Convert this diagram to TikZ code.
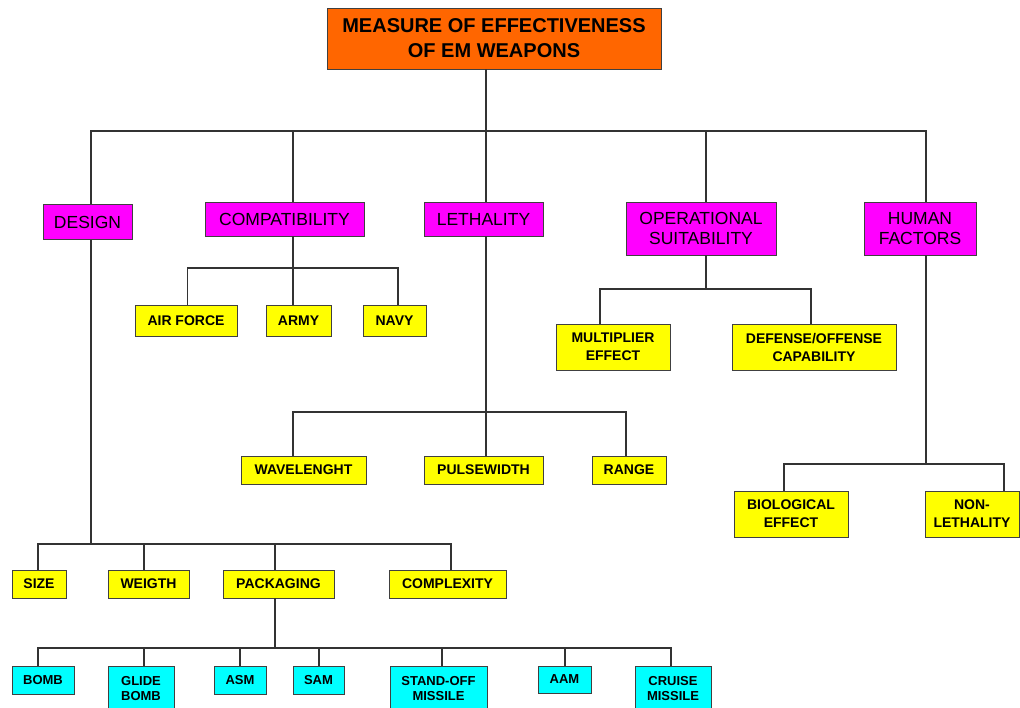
\documentclass[tikz,border=0pt]{standalone}
\usepackage{fontspec}
\setmainfont{Liberation Sans}
\usepackage{xcolor}
\usepackage{tikz}
\definecolor{moeorange}{HTML}{FF6600}
\definecolor{moemagenta}{HTML}{FF00FF}
\definecolor{moeyellow}{HTML}{FFFF00}
\definecolor{moecyan}{HTML}{00FFFF}
\definecolor{moeline}{HTML}{333333}
\definecolor{moeframe}{HTML}{404040}

\begin{document}
\begin{tikzpicture}[x=1pt, y=-1pt,
  box/.style={draw=moeframe, line width=0.9pt, inner sep=0pt, align=center, text=black},
  head/.style={box, fill=moeorange, font=\fontsize{20}{25}\selectfont\bfseries},
  cat/.style={box, fill=moemagenta, font=\fontsize{17.5}{20}\selectfont},
  sub/.style={box, fill=moeyellow, font=\fontsize{14}{18}\selectfont\bfseries},
  leaf/.style={box, fill=moecyan, font=\fontsize{13}{15}\selectfont\bfseries},
  link/.style={draw=moeline, line width=1.1pt}]
  \clip (0,0) rectangle (1020,707);
  \fill[white] (0,0) rectangle (1020,707);
  % top
  \node[head, minimum width=334pt, minimum height=61pt] (moe) at (494,38.5) {MEASURE OF EFFECTIVENESS\\OF EM WEAPONS};
  % categories
  \node[cat, minimum width=89pt,  minimum height=35pt] (design) at (87.5,222) {DESIGN};
  \node[cat, minimum width=159pt, minimum height=34pt] (compat) at (284.5,219) {COMPATIBILITY};
  \node[cat, minimum width=119pt, minimum height=34pt] (leth)   at (483.5,219) {LETHALITY};
  \node[cat, minimum width=150pt, minimum height=53pt] (opsuit) at (701,228.5) {OPERATIONAL\\SUITABILITY};
  \node[cat, minimum width=112pt, minimum height=53pt] (human)  at (920,228.5) {HUMAN\\FACTORS};
  % compatibility
  \node[sub, minimum width=102pt, minimum height=31pt] (airforce) at (186,320.5) {AIR FORCE};
  \node[sub, minimum width=65pt,  minimum height=31pt] (army)     at (298.5,320.5) {ARMY};
  \node[sub, minimum width=63pt,  minimum height=31pt] (navy)     at (394.5,320.5) {NAVY};
  % operational suitability
  \node[sub, minimum width=114pt, minimum height=46pt] (mult)   at (613,347) {MULTIPLIER\\EFFECT};
  \node[sub, minimum width=164pt, minimum height=46pt] (defoff) at (814,347) {DEFENSE/OFFENSE\\CAPABILITY};
  % lethality
  \node[sub, minimum width=125pt, minimum height=28pt] (wavel) at (303.5,470) {WAVELENGHT};
  \node[sub, minimum width=119pt, minimum height=28pt] (pulse) at (483.5,470) {PULSEWIDTH};
  \node[sub, minimum width=74pt,  minimum height=28pt] (range) at (629,470) {RANGE};
  % human factors
  \node[sub, minimum width=114pt, minimum height=46pt] (bio)     at (791,514) {BIOLOGICAL\\EFFECT};
  \node[sub, minimum width=94pt,  minimum height=46pt] (nonleth) at (972,514) {NON-\\LETHALITY};
  % design
  \node[sub, minimum width=54pt,  minimum height=28pt] (size)   at (39,584) {SIZE};
  \node[sub, minimum width=81pt,  minimum height=28pt] (weigth) at (148.5,584) {WEIGTH};
  \node[sub, minimum width=111pt, minimum height=28pt] (pack)   at (278.5,584) {PACKAGING};
  \node[sub, minimum width=117pt, minimum height=28pt] (compl)  at (447.5,584) {COMPLEXITY};
  % packaging
  \node[leaf, minimum width=62pt, minimum height=28pt] (bomb)   at (43,680) {BOMB};
  \node[leaf, minimum width=66pt, minimum height=46pt] (glide)  at (141,689) {GLIDE\\BOMB};
  \node[leaf, minimum width=52pt, minimum height=28pt] (asm)    at (240,680) {ASM};
  \node[leaf, minimum width=51pt, minimum height=28pt] (sam)    at (318.5,680) {SAM};
  \node[leaf, minimum width=97pt, minimum height=46pt] (stand)  at (438.5,689) {STAND-OFF\\MISSILE};
  \node[leaf, minimum width=53pt, minimum height=27pt] (aam)    at (564.5,679.5) {AAM};
  \node[leaf, minimum width=76pt, minimum height=46pt] (cruise) at (673,689) {CRUISE\\MISSILE};
  % bus junctions
  \coordinate (b0) at (486,131);
  \coordinate (b1) at (91,544);
  \coordinate (b2) at (293,268);
  \coordinate (b3) at (486,412);
  \coordinate (b4) at (706,289);
  \coordinate (b5) at (926,464);
  \coordinate (b6) at (275,648);
  % connectors
  \draw[link] ([xshift=-8pt]moe.south) -- (b0);
  \draw[link] (b0) -| ([xshift=3.5pt]design.north);
  \draw[link] (b0) -| ([xshift=8.5pt]compat.north);
  \draw[link] (b0) -- ([xshift=2.5pt]leth.north);
  \draw[link] (b0) -| ([xshift=5pt]opsuit.north);
  \draw[link] (b0) -| ([xshift=6pt]human.north);
  \draw[link] ([xshift=8.5pt]compat.south) -- (b2);
  \draw[link] (b2) -| ([xshift=1.5pt]airforce.north);
  \draw[link] (b2) -- ([xshift=-5.5pt]army.north);
  \draw[link] (b2) -| ([xshift=3.5pt]navy.north);
  \draw[link] ([xshift=5pt]opsuit.south) -- (b4);
  \draw[link] (b4) -| ([xshift=-13pt]mult.north);
  \draw[link] (b4) -| ([xshift=-3pt]defoff.north);
  \draw[link] ([xshift=2.5pt]leth.south) -- (b3);
  \draw[link] (b3) -| ([xshift=-10.5pt]wavel.north);
  \draw[link] (b3) -- ([xshift=2.5pt]pulse.north);
  \draw[link] (b3) -| ([xshift=-3pt]range.north);
  \draw[link] ([xshift=6pt]human.south) -- (b5);
  \draw[link] (b5) -| ([xshift=-7pt]bio.north);
  \draw[link] (b5) -| ([xshift=32pt]nonleth.north);
  \draw[link] ([xshift=3.5pt]design.south) -- (b1);
  \draw[link] (b1) -| ([xshift=-1pt]size.north);
  \draw[link] (b1) -| ([xshift=-4.5pt]weigth.north);
  \draw[link] (b1) -| ([xshift=-3.5pt]pack.north);
  \draw[link] (b1) -| ([xshift=3.5pt]compl.north);
  \draw[link] ([xshift=-3.5pt]pack.south) -- (b6);
  \draw[link] (b6) -| ([xshift=-5pt]bomb.north);
  \draw[link] (b6) -| ([xshift=3pt]glide.north);
  \draw[link] (b6) -| (asm.north);
  \draw[link] (b6) -| ([xshift=0.5pt]sam.north);
  \draw[link] (b6) -| ([xshift=3.5pt]stand.north);
  \draw[link] (b6) -| ([xshift=0.5pt]aam.north);
  \draw[link] (b6) -| ([xshift=-2pt]cruise.north);
\end{tikzpicture}
\end{document}
